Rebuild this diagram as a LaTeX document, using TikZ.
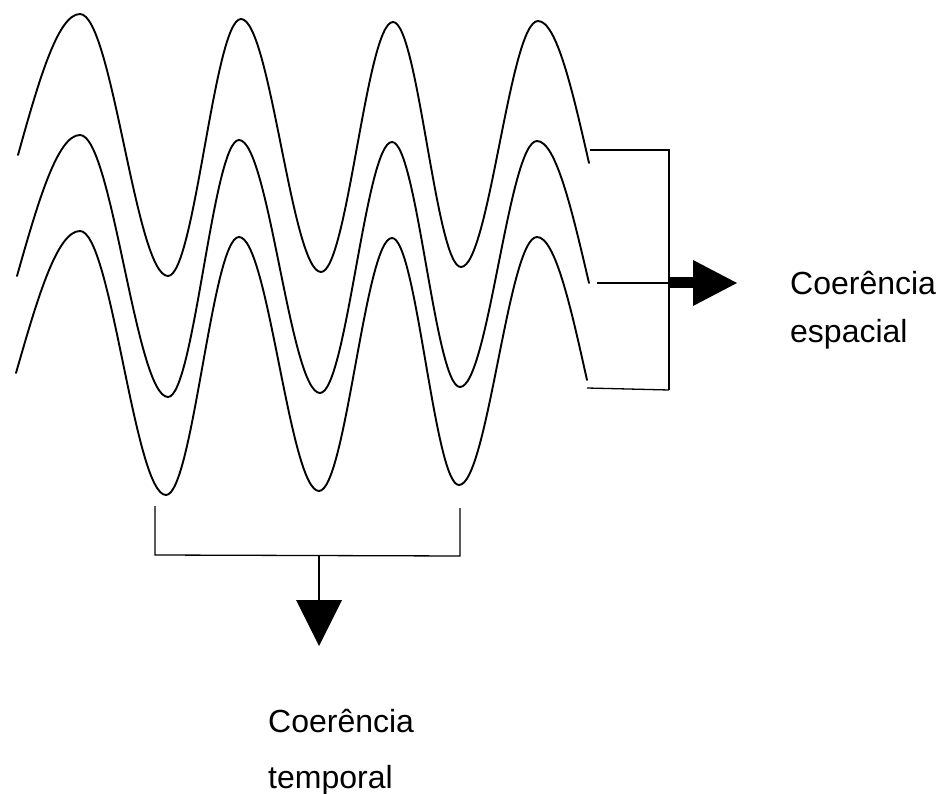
\documentclass[tikz,border=0pt]{standalone}
\usepackage{fontspec}
\setmainfont{Liberation Sans}
\usetikzlibrary{calc}
\tikzset{
  wave/.style={line width=1.9pt, line join=round, line cap=round},
  brk/.style={line width=1.3pt},
  head/.style={fill=black, draw=none},
  lbl/.style={inner sep=0pt, font=\fontsize{32}{36}\selectfont, anchor=base west}
}
\begin{document}
\begin{tikzpicture}[x=1pt,y=-1pt]
\useasboundingbox (0,0) rectangle (943,794);
% waves
\draw[wave] (18,155) .. controls (38.2,82.8) and (57.6,14) .. (80,14)
  .. controls (112,14) and (136,276) .. (168,276)
  .. controls (194.6,276) and (214.4,19) .. (241,19)
  .. controls (270.1,19) and (291.9,272) .. (321,272)
  .. controls (347.2,272) and (366.8,22) .. (393,22)
  .. controls (417.8,22) and (436.2,267) .. (461,267)
  .. controls (489,267) and (510,21) .. (538,21)
  .. controls (556.5,21) and (572.4,90.3) .. (589,163);
\draw[wave] (17,276) .. controls (37.5,203.8) and (57.2,135) .. (80,135)
  .. controls (112,135) and (136,397) .. (168,397)
  .. controls (193.8,397) and (213.2,140) .. (239,140)
  .. controls (268.5,140) and (290.5,393) .. (320,393)
  .. controls (346.2,393) and (365.8,142) .. (392,142)
  .. controls (416.8,142) and (435.2,387) .. (460,387)
  .. controls (488,387) and (509,141) .. (537,141)
  .. controls (555.8,141) and (572,210.3) .. (589,283);
\draw[wave] (16,373) .. controls (36.9,300.3) and (56.8,231) .. (80,231)
  .. controls (111.3,231) and (134.7,495) .. (166,495)
  .. controls (192.6,495) and (212.4,237) .. (239,237)
  .. controls (268.1,237) and (289.9,491) .. (319,491)
  .. controls (345.6,491) and (365.4,238) .. (392,238)
  .. controls (416.4,238) and (434.6,485) .. (459,485)
  .. controls (487.4,485) and (508.6,237) .. (537,237)
  .. controls (555.1,237) and (570.7,306.8) .. (587,380);
% right bracket
\coordinate (r1) at (590,150);
\coordinate (r2) at (597,283);
\coordinate (r3) at (587,388);
\coordinate (rv1) at (669,150);
\coordinate (rv2) at (669,283);
\coordinate (rv3) at (669,390);
\coordinate (rh) at (693,283);
\draw[brk] (r1) -- (rv1) -- (rv3);
\draw[brk] (r3) -- (rv3);
\draw[brk] (r2) -- (rv2);
\draw[line width=11pt] (rv2) -- (rh);
\fill[head] ($(rh)+(0,-23)$) -- (737,283) coordinate (rtip) -- ($(rh)+(0,23)$) -- cycle;
% bottom bracket
\coordinate (b1) at (155,506);
\coordinate (b2) at (460,508);
\coordinate (bh1) at (155,555);
\coordinate (bh2) at (460,556);
\coordinate (bm) at (319,555.5);
\coordinate (bt) at (319,600);
\draw[brk] (b1) -- (bh1) -- (bh2) -- (b2);
\draw[line width=1.5pt] (bm) -- (bt);
\fill[head] ($(bt)+(-23,0)$) -- (319,646) coordinate (btip) -- ($(bt)+(23,0)$) -- cycle;
% labels
\node[lbl] (sp1) at (790,295) {Coerência};
\node[lbl] (sp2) at (790,343) {espacial};
\node[lbl] (tp1) at (268,732) {Coerência};
\node[lbl] (tp2) at (268,788) {temporal};
\end{tikzpicture}
\end{document}
